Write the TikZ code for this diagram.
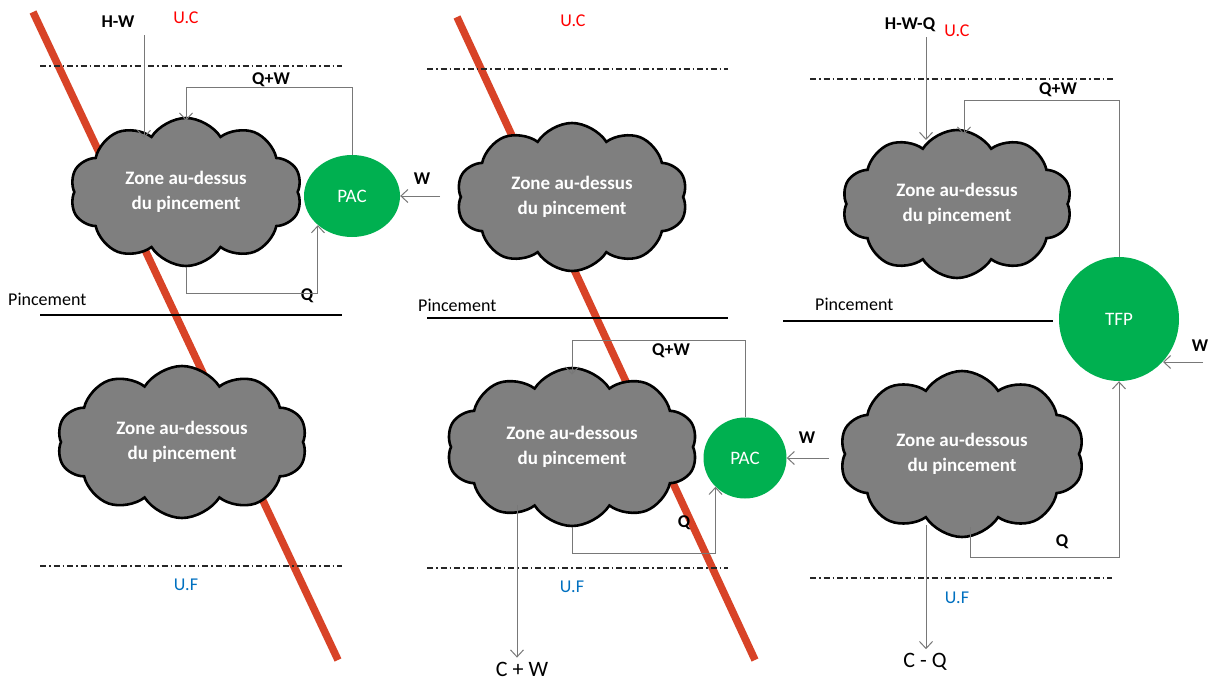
\documentclass[tikz,border=0pt]{standalone}
\usepackage{fontspec}
\setmainfont{Carlito}
\usepackage{tikz}
\usetikzlibrary{arrows.meta,positioning,calc,shapes.symbols,shapes.geometric}
\definecolor{cloudgray}{RGB}{127,127,127}
\definecolor{pacgreen}{RGB}{0,176,80}
\definecolor{tgred}{RGB}{216,67,39}
\definecolor{ucred}{RGB}{255,0,0}
\definecolor{ufblue}{RGB}{0,112,192}
\definecolor{flowgray}{RGB}{120,120,120}

\tikzset{
  zone/.style={cloud,cloud puffs=10,cloud puff arc=115,cloud ignores aspect,
    draw=black,line width=2.6pt,fill=cloudgray,text=white,align=center,
    font=\bfseries\fontsize{19}{25}\selectfont,inner sep=0pt},
  pump/.style={ellipse,fill=pacgreen,text=white,inner sep=0pt,
    font=\fontsize{19}{23}\selectfont},
  flow/.style={draw=flowgray,line width=1pt,-{Straight Barb[length=7pt,width=13pt]}},
  lbl/.style={inner sep=0pt,font=\bfseries\fontsize{18}{20}\selectfont},
  txt/.style={inner sep=0pt,font=\fontsize{18}{20}\selectfont},
  pinch/.style={line width=1.2pt},
  bound/.style={draw=black!85,line width=1.2pt,dash pattern=on 6pt off 3pt on 1.5pt off 3pt},
  grad/.style={draw=tgred,line width=7.5pt}
}

\begin{document}
\begin{tikzpicture}[x=1pt,y=-1pt]
  \useasboundingbox (0,0) rectangle (1211,680);
  % temperature lines
  \draw[grad] (33,12) -- (338,660);
  \draw[grad] (457,17) -- (755,660);
  % utility limits and pinch
  \draw[bound] (40,66) -- (342,66);
  \draw[bound] (40,566) -- (342,566);
  \draw[pinch] (40,315) -- (342,315);
  \draw[bound] (427,69) -- (728,69);
  \draw[bound] (427,568) -- (728,568);
  \draw[pinch] (427,318) -- (728,318);
  \draw[bound] (810,79) -- (1113,79);
  \draw[bound] (810,578) -- (1112,578);
  \draw[pinch] (783,321) -- (1053,321);

  % zones
  \node[zone,minimum width=232pt,minimum height=148pt] (cloudUpA) at (186,192) {Zone au-dessus\\du pincement};
  \node[zone,minimum width=250pt,minimum height=152pt] (cloudLowA) at (182,442) {Zone au-dessous\\du pincement};
  \node[zone,minimum width=231pt,minimum height=148pt] (cloudUpB) at (572,197) {Zone au-dessus\\du pincement};
  \node[zone,minimum width=251pt,minimum height=158pt] (cloudLowB) at (572,447) {Zone au-dessous\\du pincement};
  \node[zone,minimum width=230pt,minimum height=148pt] (cloudUpC) at (957,204) {Zone au-dessus\\du pincement};
  \node[zone,minimum width=245pt,minimum height=166pt] (cloudLowC) at (962,454) {Zone au-dessous\\du pincement};

  % heat pumps and TFP
  \node[pump,minimum width=96pt,minimum height=82pt] (pacA) at (352,196) {PAC};
  \node[pump,minimum width=83pt,minimum height=81pt] (pacB) at (745,458) {PAC};
  \node[pump,minimum width=120pt,minimum height=124pt] (tfp) at (1119,319) {TFP};

  % labels
  \node[txt,anchor=west] (pinchA) at (8,299) {Pincement};
  \node[txt,anchor=west] (pinchB) at (418,305) {Pincement};
  \node[txt,anchor=west] (pinchC) at (815,304) {Pincement};
  \node[txt,text=ucred] (ucA) at (186,18) {U.C};
  \node[txt,text=ucred] (ucB) at (573,21) {U.C};
  \node[txt,text=ucred] (ucC) at (957,31) {U.C};
  \node[txt,text=ufblue] (ufA) at (186,585) {U.F};
  \node[txt,text=ufblue] (ufB) at (572,587) {U.F};
  \node[txt,text=ufblue] (ufC) at (957,598) {U.F};
  \node[lbl] (hwA) at (118,22) {H-W};
  \node[lbl] (qwA) at (271,80) {Q+W};
  \node[lbl] (qA) at (307,296) {Q};
  \node[lbl] (wA) at (422,179) {W};
  \node[lbl] (qwB) at (671,351) {Q+W};
  \node[lbl] (qB) at (684,523) {Q};
  \node[lbl] (wB) at (807,438) {W};
  \node[lbl] (hwqC) at (910,25) {H-W-Q};
  \node[lbl] (qwC) at (1058,90) {Q+W};
  \node[lbl] (qC) at (1062,542) {Q};
  \node[lbl] (wC) at (1200,346) {W};
  \node[inner sep=4pt,font=\fontsize{22}{24}\selectfont] (sumB) at (522,669) {C + W};
  \node[inner sep=4pt,font=\fontsize{22}{24}\selectfont] (diffC) at (925,662) {C - Q};

  % flows, panel 1
  \coordinate (inA) at (144,35);
  \draw[flow] (inA) -- (144,138);
  \draw[flow] (pacA.north) -- ++(0,-67) -| ($(cloudUpA.north)+(0,4)$);
  \draw[flow] (cloudUpA.south) -- (cloudUpA.south |- 0,293) -| (pacA.south west);
  \coordinate (workA) at (440,196);
  \draw[flow] (workA) -- (pacA.east);
  % flows, panel 2
  \draw[flow] (pacB.north) -- ++(0,-77) -| ($(cloudLowB.north)+(0,8)$);
  \draw[flow] (cloudLowB.south) -- (cloudLowB.south |- 0,553) -| (pacB.south west);
  \coordinate (workB) at (829,458);
  \draw[flow] (workB) -- (pacB.east);
  \coordinate (outB) at (517,505);
  \draw[flow] (outB) -- (outB |- sumB.north);
  % flows, panel 3
  \coordinate (inC) at (926,37);
  \draw[flow] (inC) -- (926,140);
  \draw[flow] (tfp.north) -- ++(0,-156) -| ($(cloudUpC.north)+(7,6)$);
  \coordinate (fromC) at (970,527);
  \draw[flow] (fromC) -- (fromC |- 0,557) -| (tfp.south);
  \coordinate (workC) at (1203,362);
  \draw[flow] (workC) -- (workC -| tfp.-44);
  \coordinate (outC) at (926,525);
  \draw[flow] (outC) -- (outC |- diffC.north);
\end{tikzpicture}
\end{document}
